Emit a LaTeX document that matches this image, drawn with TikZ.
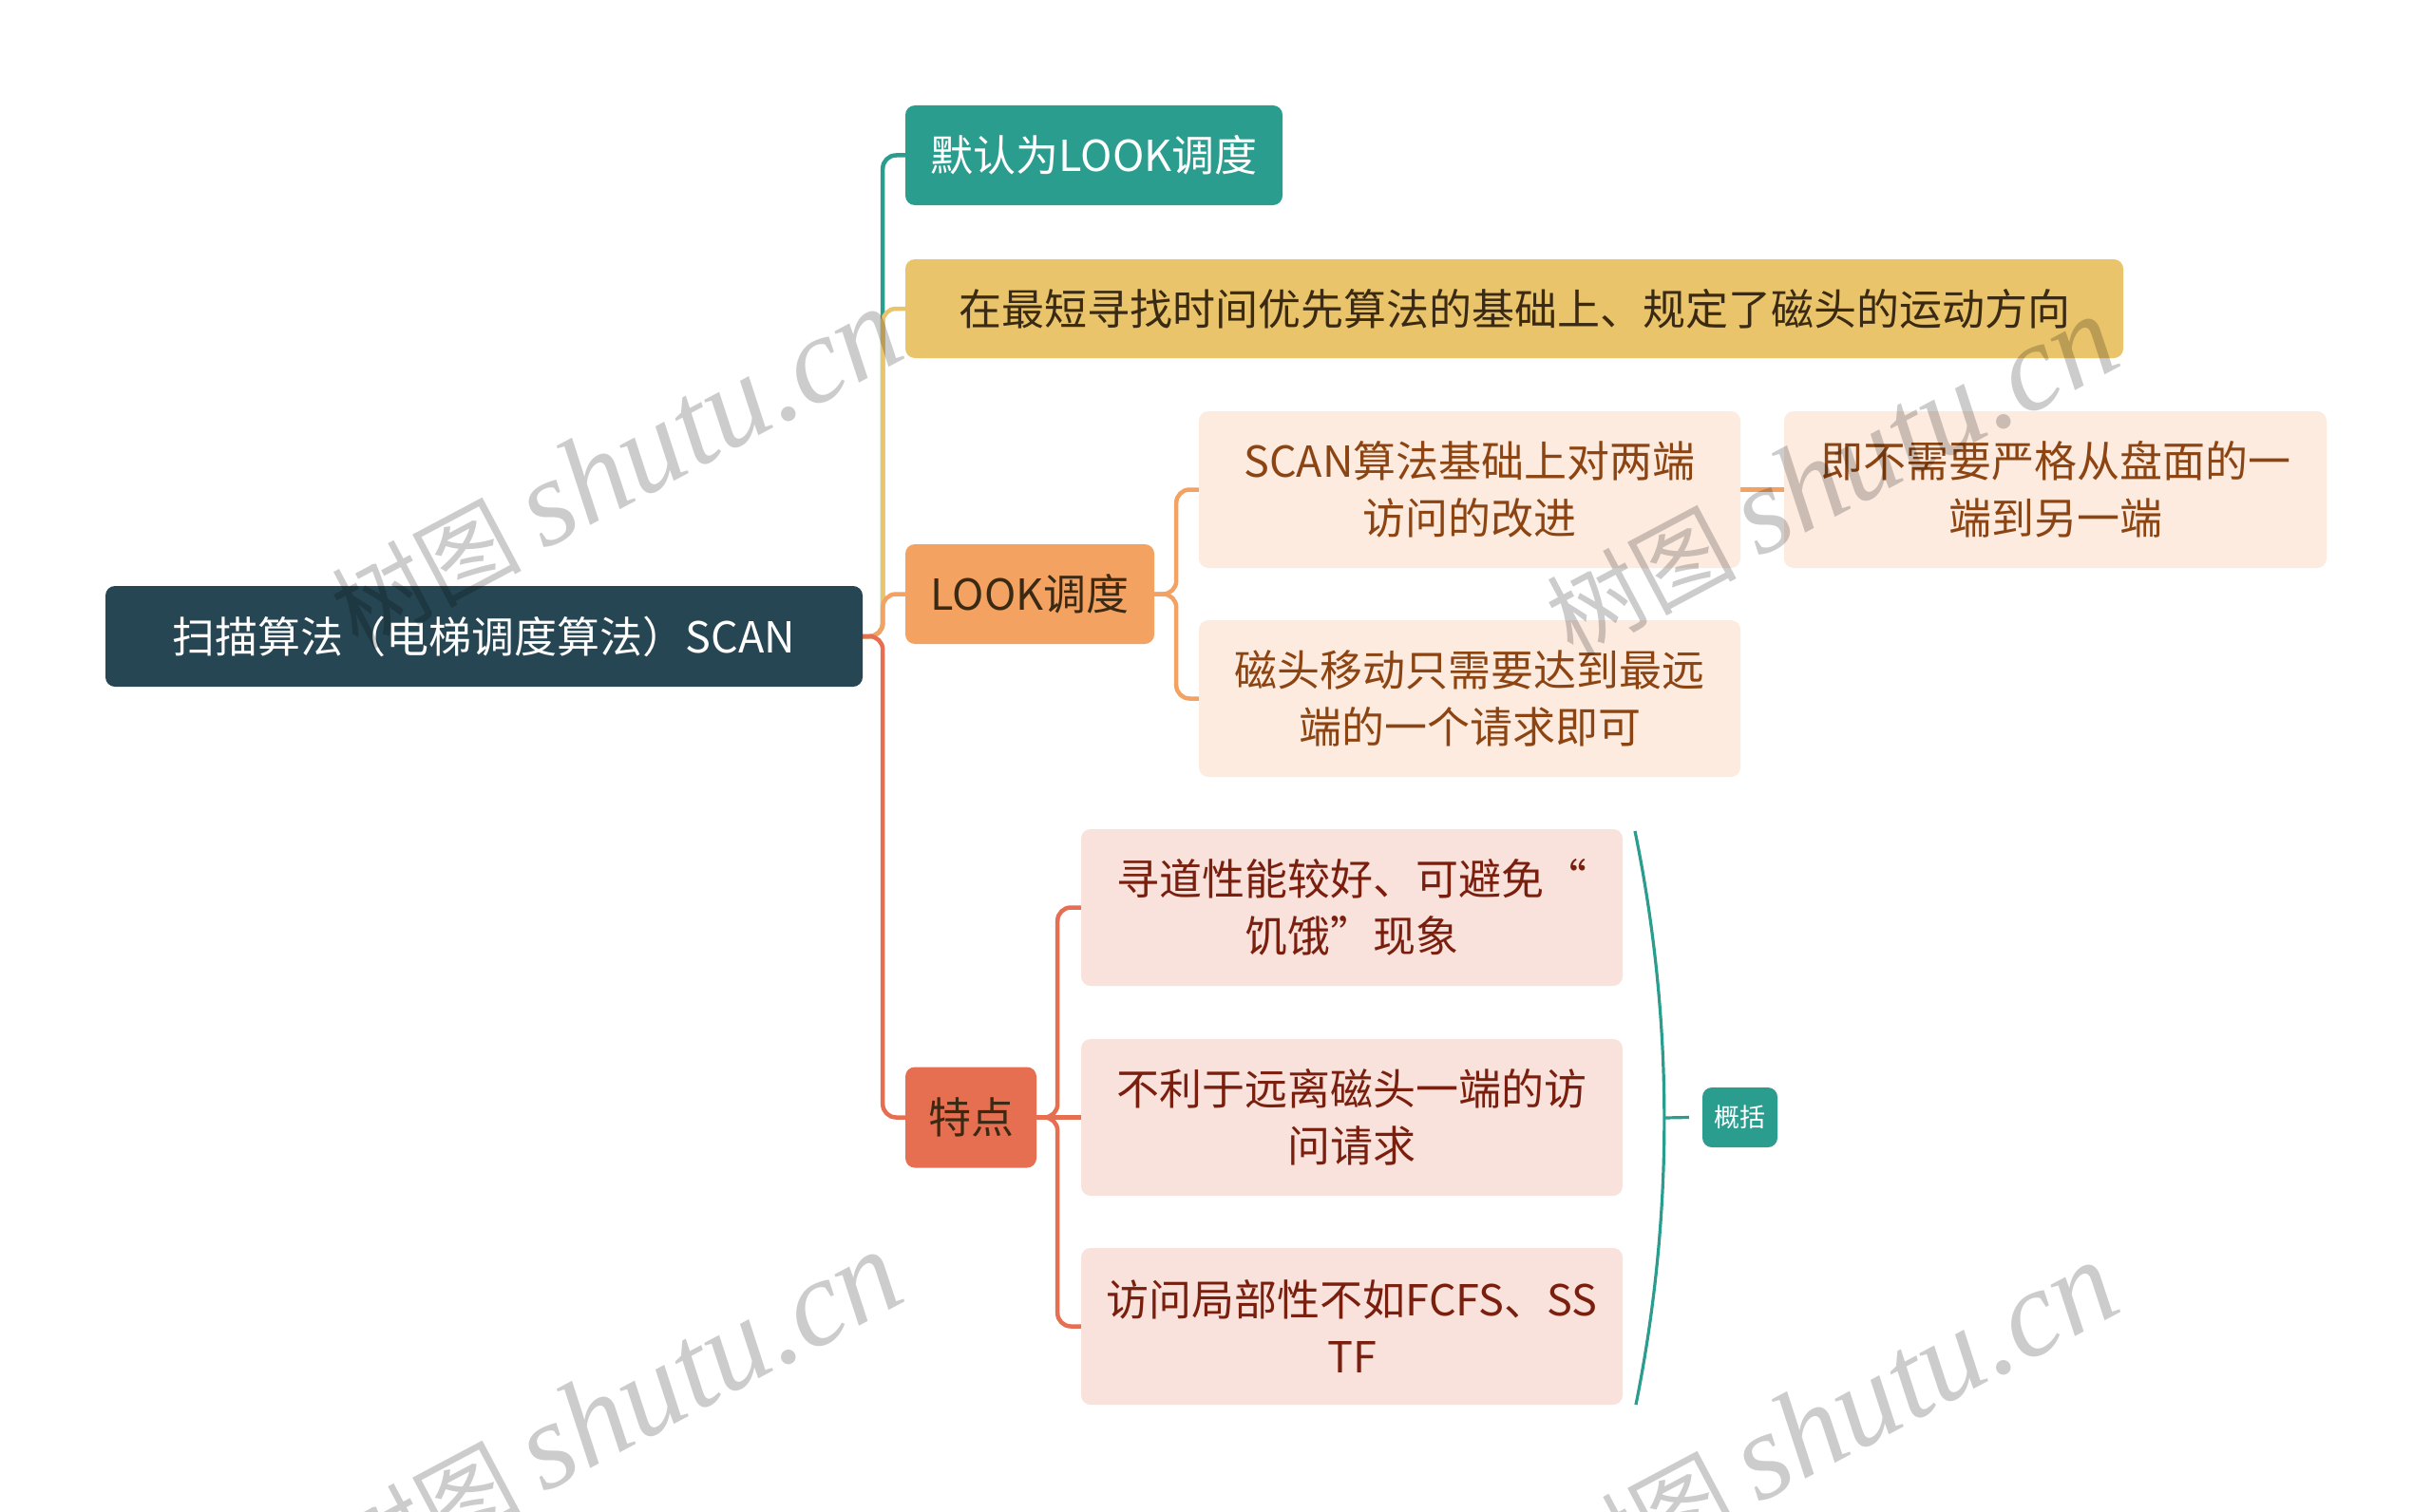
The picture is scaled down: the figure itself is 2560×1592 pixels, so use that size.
\documentclass[tikz,border=0pt]{standalone}
\usepackage{fontspec}
\setmainfont{Noto Sans CJK SC}
\newfontfamily\wmlatin{Liberation Serif}
\usetikzlibrary{calc,backgrounds}
\definecolor{cRoot}{HTML}{264653}
\definecolor{cTeal}{HTML}{2A9D8F}
\definecolor{cYel}{HTML}{E9C46A}
\definecolor{cOra}{HTML}{F4A261}
\definecolor{cRed}{HTML}{E76F51}
\definecolor{cPeach}{HTML}{FDEBDF}
\definecolor{cPink}{HTML}{F9E2DC}
\definecolor{tBrown}{HTML}{8C4512}
\definecolor{tDRed}{HTML}{7A1E0E}
\definecolor{tDark}{HTML}{3A2A14}
\tikzset{
  box/.style={rounded corners=10pt, inner sep=0pt, align=center,
    font=\fontsize{45}{60}\selectfont},
  conn/.style={line width=4.5pt, rounded corners=14pt},
  wm/.style={rotate=28, text=black, opacity=0.2, inner sep=0pt},
}
\begin{document}
\begin{tikzpicture}[x=1pt,y=-1pt]
\useasboundingbox (0,0) rectangle (2560,1592);
% nodes
\node[box, fill=cRoot, text=white, minimum width=797pt, minimum height=106pt] (root) at (509.5,670) {扫描算法（电梯调度算法）SCAN};
\node[box, fill=cTeal, text=white, minimum width=397pt, minimum height=105pt] (n1) at (1151.5,163.5) {默认为LOOK调度};
\node[box, fill=cYel, text=tDark, minimum width=1282pt, minimum height=104pt] (n2) at (1594,325) {在最短寻找时间优先算法的基础上、规定了磁头的运动方向};
\node[box, fill=cOra, text=tDark, minimum width=262pt, minimum height=105pt] (n3) at (1084,625.5) {LOOK调度};
\node[box, fill=cRed, text=tDark, minimum width=138pt, minimum height=106pt] (n4) at (1022,1176.5) {特点};
\node[box, fill=cPeach, text=tBrown, minimum width=570pt, minimum height=165pt] (a1) at (1547,515.5) {SCAN算法基础上对两端\\访问的改进};
\node[box, fill=cPeach, text=tBrown, minimum width=570pt, minimum height=165pt] (a2) at (1547,735.5) {磁头移动只需要达到最远\\端的一个请求即可};
\node[box, fill=cPeach, text=tBrown, minimum width=571pt, minimum height=165pt] (a3) at (2163.5,515.5) {即不需要严格从盘面的一\\端到另一端};
\node[box, fill=cPink, text=tDRed, minimum width=570pt, minimum height=165pt] (b1) at (1423,955.5) {寻道性能较好、可避免“\\饥饿”现象};
\node[box, fill=cPink, text=tDRed, minimum width=570pt, minimum height=165pt] (b2) at (1423,1176.5) {不利于远离磁头一端的访\\问请求};
\node[box, fill=cPink, text=tDRed, minimum width=570pt, minimum height=165pt] (b3) at (1423,1396.5) {访问局部性不如FCFS、SS\\TF};
\node[box, fill=cTeal, text=white, minimum width=79pt, minimum height=63pt, font=\fontsize{27}{32}\selectfont] (sum) at (1831.5,1176.5) {概括};
% connectors
\begin{pgfonlayer}{background}
\fill[white] (0,0) rectangle (2560,1592);
\draw[conn, cTeal] (root.east) -- ++(21,0) |- (n1.west);
\draw[conn, cYel] (root.east) -- ++(21,0) |- (n2.west);
\draw[conn, cOra] (root.east) -- ++(21,0) |- (n3.west);
\draw[conn, cRed] (root.east) -- ++(21,0) |- (n4.west);
\draw[conn, cOra] (n3.east) -- ++(23,0) |- (a1.west);
\draw[conn, cOra] (n3.east) -- ++(23,0) |- (a2.west);
\draw[conn, cOra] (a1.east) -- (a3.west);
\draw[conn, cRed] (n4.east) -- ++(22,0) |- (b1.west);
\draw[conn, cRed] (n4.east) -- (b2.west);
\draw[conn, cRed] (n4.east) -- ++(22,0) |- (b3.west);
\coordinate (btop) at (1721,875);
\coordinate (bbot) at (1722,1479);
\coordinate (bmid) at (1752,1177);
\draw[line width=3.2pt, cTeal] (btop) .. controls (1762,1075) and (1762,1279) .. (bbot);
\draw[line width=3.2pt, cTeal] (bmid) -- ([xshift=-14pt]sum.west);
\end{pgfonlayer}
% watermarks
\node[wm] (w1) at (648,493) {\fontsize{100}{100}\selectfont 树图 \wmlatin\itshape\fontsize{130}{130}\selectfont shutu.cn};
\node[wm] (w2) at (1927,501) {\fontsize{100}{100}\selectfont 树图 \wmlatin\itshape\fontsize{130}{130}\selectfont shutu.cn};
\node[wm] (w3) at (648,1486) {\fontsize{100}{100}\selectfont 树图 \wmlatin\itshape\fontsize{130}{130}\selectfont shutu.cn};
\node[wm] (w4) at (1927,1497) {\fontsize{100}{100}\selectfont 树图 \wmlatin\itshape\fontsize{130}{130}\selectfont shutu.cn};
\end{tikzpicture}
\end{document}
